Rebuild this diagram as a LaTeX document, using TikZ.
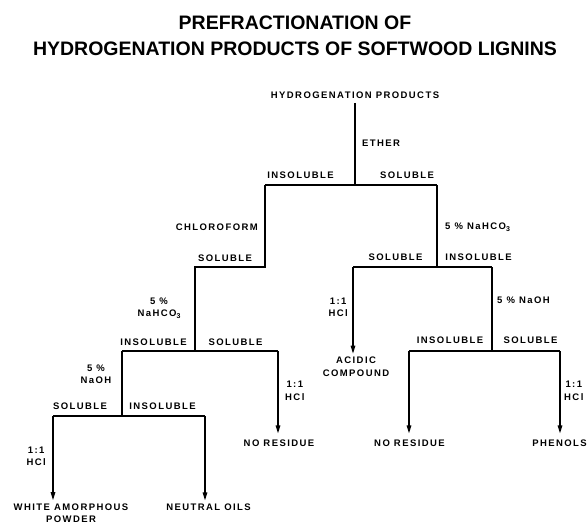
\documentclass[tikz,border=0pt]{standalone}
\usepackage{fontspec}
\setmainfont{Liberation Sans}
\newfontfamily\labfont{Liberation Sans}[LetterSpace=15,UprightFont={* Bold}]
\newcommand{\subthree}{\raisebox{-0.3ex}{\fontsize{7}{7}\selectfont 3}}
\usetikzlibrary{arrows.meta}
\tikzset{
  lab/.style={inner sep=0pt, font=\labfont\fontsize{9.5}{12.5}\selectfont, align=center},
  ttl/.style={inner sep=0pt, font=\fontsize{19.5}{26}\selectfont\bfseries},
  ln/.style={line width=1.2pt},
  arr/.style={line width=1.2pt, -{Triangle[width=4.5pt,length=8pt]}}
}
\begin{document}
\begin{tikzpicture}[x=1pt,y=-1pt]
\useasboundingbox (0,0) rectangle (588,524);
% title
\node[ttl] (t1) at (295,23) {PREFRACTIONATION OF};
\node[ttl] (t2) at (295,49) {HYDROGENATION PRODUCTS OF SOFTWOOD LIGNINS};
% nodes
\node[lab] (hp) at (355,95) {HYDROGENATION PRODUCTS};
\node[lab] (ether) at (381,143) {ETHER};
\node[lab] (ins1) at (300.5,175) {INSOLUBLE};
\node[lab] (sol1) at (407,175) {SOLUBLE};
\node[lab, anchor=east] (chl) at (258,227) {CHLOROFORM};
\node[lab] (sol2) at (225,258) {SOLUBLE};
\node[lab, anchor=west] (bic1) at (445,227) {5 \% NaHCO\subthree};
\node[lab] (sol3) at (395.5,257) {SOLUBLE};
\node[lab] (ins3) at (478.5,257) {INSOLUBLE};
\node[lab] (bic2) at (159,308) {5 \%\\NaHCO\subthree};
\node[lab] (ins4) at (153.5,342) {INSOLUBLE};
\node[lab] (sol4) at (235.5,342) {SOLUBLE};
\node[lab, anchor=west] (hcl1) at (285,391) {1:1\\HCl};
\node[lab] (naoh1) at (96,374) {5 \%\\NaOH};
\node[lab] (sol5) at (80,406) {SOLUBLE};
\node[lab] (ins5) at (162.5,406) {INSOLUBLE};
\node[lab, anchor=east] (hcl2) at (46,456.5) {1:1\\HCl};
\node[lab] (wap) at (71,513) {WHITE AMORPHOUS\\POWDER};
\node[lab] (oils) at (208.5,507) {NEUTRAL OILS};
\node[lab] (nr1) at (279,443) {NO RESIDUE};
\node[lab, anchor=east] (hcl3) at (348,307.5) {1:1\\HCl};
\node[lab] (acid) at (356,366.5) {ACIDIC\\COMPOUND};
\node[lab, anchor=west] (naoh2) at (497,300) {5 \% NaOH};
\node[lab] (ins6) at (450,340) {INSOLUBLE};
\node[lab] (sol6) at (530.5,340) {SOLUBLE};
\node[lab, anchor=west] (hcl4) at (564,391) {1:1\\HCl};
\node[lab] (nr2) at (409.5,443) {NO RESIDUE};
\node[lab] (phen) at (559.5,443) {PHENOLS};
% junctions
\coordinate (a0) at (355,103);
\coordinate (a1) at (355,185);
\coordinate (aL) at (265,185);
\coordinate (aR) at (437,185);
\coordinate (b0) at (265,267);
\coordinate (bL) at (195,267);
\coordinate (c0) at (195,351);
\coordinate (cL) at (122,351);
\coordinate (cR) at (278,351);
\coordinate (d0) at (122,416);
\coordinate (dL) at (53,416);
\coordinate (dR) at (205,416);
\coordinate (e0) at (437,267);
\coordinate (eL) at (353,267);
\coordinate (eR) at (492,267);
\coordinate (f0) at (492,351);
\coordinate (fL) at (409,351);
\coordinate (fR) at (560,351);
% lines
\draw[ln] (a0) -- (a1);
\draw[ln] (aL) -- (aR);
\draw[ln] (aL) -- (b0) -- (bL) -- (c0);
\draw[ln] (cL) -- (cR);
\draw[ln] (cL) -- (d0);
\draw[ln] (dL) -- (dR);
\draw[ln] (aR) -- (e0);
\draw[ln] (eL) -- (eR);
\draw[ln] (eR) -- (f0);
\draw[ln] (fL) -- (fR);
% arrows
\draw[arr] (dL) -- ([yshift=3pt]dL |- wap.north);
\draw[arr] (dR) -- ([yshift=3pt]dR |- oils.north);
\draw[arr] (cR) -- ([yshift=6pt]cR |- nr1.north);
\draw[arr] (eL) -- ([yshift=3pt]eL |- acid.north);
\draw[arr] (fL) -- ([yshift=6pt]fL |- nr2.north);
\draw[arr] (fR) -- ([yshift=6pt]fR |- phen.north);
\end{tikzpicture}
\end{document}
